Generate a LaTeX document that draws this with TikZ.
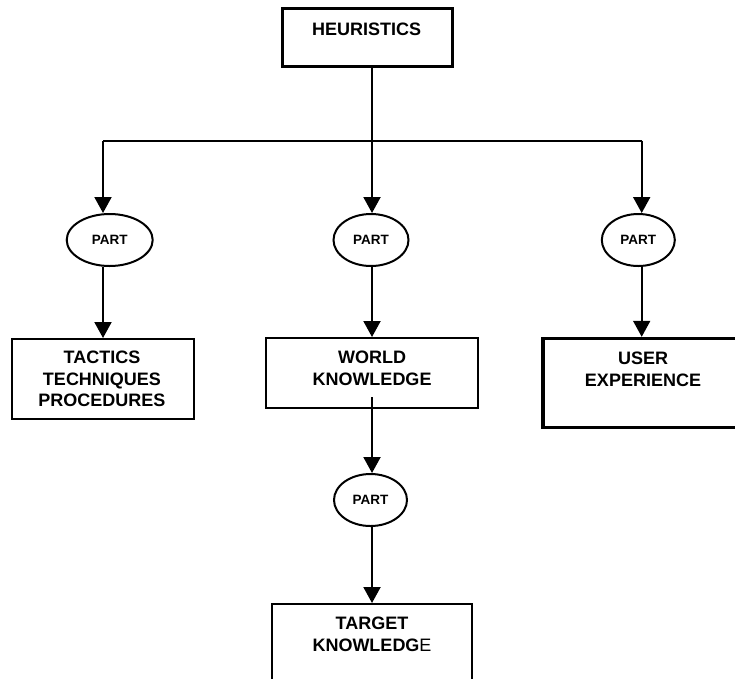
\documentclass[tikz,border=0pt]{standalone}
\usepackage{fontspec}
\setmainfont{Liberation Sans}
\usetikzlibrary{arrows.meta,shapes.geometric}

\tikzset{
  box/.style={draw, line width=2pt, rectangle, inner sep=0pt},
  thickbox/.style={box, line width=3.4pt},
  part/.style={draw, line width=2pt, ellipse, inner sep=0pt,
    font=\fontsize{13.5}{15}\selectfont\bfseries},
  label/.style={inner sep=0pt, anchor=north, align=center,
    font=\fontsize{18}{21.7}\selectfont\bfseries},
  conn/.style={line width=2pt},
  arr/.style={conn, -{Triangle[length=16pt,width=17pt]}}
}

\begin{document}
\begin{tikzpicture}[x=1pt,y=-1pt]
  \clip (0,0) rectangle (735,678);
  \fill[white] (0,0) rectangle (735,678);

  % boxes
  \node[thickbox, minimum width=170pt, minimum height=58pt] (heur) at (367.5,37.5) {};
  \node[box, minimum width=182pt, minimum height=80pt] (ttp) at (103,379) {};
  \node[box, minimum width=212pt, minimum height=70pt] (wk) at (372,373) {};
  \node[thickbox, minimum width=200pt, minimum height=89pt] (ue) at (643,383) {};
  \node[box, minimum width=200pt, minimum height=90pt] (tk) at (372,649) {};

  % box texts
  \node[label] (heurT) at (366.7,22.7) {HEURISTICS};
  \node[label] (ttpT) at (102,350.7) {TACTICS\\TECHNIQUES\\PROCEDURES};
  \node[label] (wkT) at (372,350.7) {WORLD\\KNOWLEDGE};
  \node[label] (ueT) at (643,351.7) {USER\\EXPERIENCE};
  \node[label] (tkT) at (372,616.7) {TARGET\\KNOWLEDG{\mdseries E}};

  % PART ellipses
  \node[part, minimum width=86pt, minimum height=52pt] (e1) at (109.7,240) {PART};
  \node[part, minimum width=75pt, minimum height=52pt] (e2) at (371,240) {PART};
  \node[part, minimum width=73pt, minimum height=52pt] (e3) at (638.3,240) {PART};
  \node[part, minimum width=73pt, minimum height=52pt] (e4) at (370.5,500) {PART};

  % branch points
  \coordinate (j) at (372,140.7);
  \coordinate (cl) at (103,140.7);
  \coordinate (cr) at (641.7,140.7);
  \coordinate (wkout) at (372,397);

  % connectors
  \draw[conn] (heur.south -| j) -- (j);
  \draw[conn] (cl) -- (cr);
  \draw[arr] (cl) -- (cl |- e1.north);
  \draw[arr] (j) -- (j |- e2.north);
  \draw[arr] (cr) -- (cr |- e3.north);

  \draw[arr] (cl |- e1.south) -- (cl |- ttp.north);
  \draw[arr] (j |- e2.south) -- (j |- wk.north);
  \draw[arr] (cr |- e3.south) -- (cr |- ue.north);

  \draw[arr] (wkout) -- (wkout |- e4.north);
  \draw[arr] (j |- e4.south) -- (j |- tk.north);
\end{tikzpicture}
\end{document}
